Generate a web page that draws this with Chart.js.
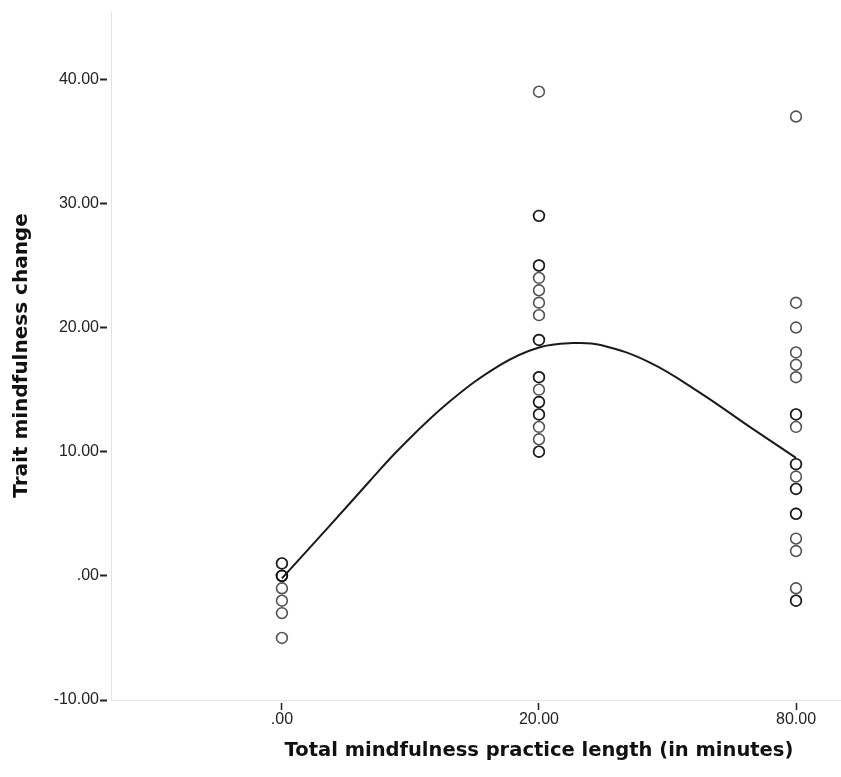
<!DOCTYPE html>
<html>
<head>
<meta charset="utf-8">
<script src="https://cdn.jsdelivr.net/npm/chart.js@4/dist/chart.umd.min.js"></script>
<style>
  html, body { margin: 0; padding: 0; background: #fff; overflow: hidden; }
  canvas { display: block; }
</style>
</head>
<body>
<canvas id="scatterChart" width="841" height="777"></canvas>
<script>
// categorie asse X (posizioni equidistanti 0, 1, 2)
const xCategories = ['.00', '20.00', '80.00'];
const yTicks = [-10, 0, 10, 20, 30, 40];

// valori (duplicati = cerchi più scuri)
const group0 = [1, 1, 0, 0, 0, -1, -2, -3, -5];
const group20 = [39, 29, 29, 25, 25, 24, 23, 22, 21, 19, 19, 16, 16, 15, 14, 14, 13, 13, 12, 11, 10, 10];
const group80 = [37, 22, 20, 18, 17, 16, 13, 13, 12, 9, 9, 8, 7, 7, 5, 5, 3, 2, -1, -2, -2];

// curva di adattamento
const curveX = [0, 0.18, 0.34, 0.46, 0.65, 0.85, 1.0, 1.13, 1.24, 1.43, 1.63, 1.82, 2.0];
const curveY = [-0.2, 3.9, 7.6, 10.3, 14.0, 17.0, 18.4, 18.75, 18.6, 17.2, 14.7, 12.0, 9.5];

const xTitle = 'Total mindfulness practice length (in minutes)';
const yTitle = 'Trait mindfulness change';

const groups = [group0, group20, group80];
let points = [];
groups.forEach((g, i) => g.forEach(v => points.push({ x: i, y: v })));

const curve = curveX.map((x, i) => ({ x: x, y: curveY[i] }));

// titoli degli assi disegnati a mano
const axisTitles = {
    id: 'axisTitles',
    afterDraw(chart) {
        const ctx = chart.ctx;
        const area = chart.chartArea;
        ctx.save();
        ctx.fillStyle = '#111';
        ctx.textAlign = 'center';
        ctx.textBaseline = 'middle';
        ctx.font = 'bold 19.5px "DejaVu Sans", Verdana, sans-serif';
        ctx.fillText(xTitle, chart.scales.x.getPixelForValue(1), 751);
        ctx.font = 'bold 20px "DejaVu Sans", Verdana, sans-serif';
        ctx.translate(22, (area.top + area.bottom) / 2);
        ctx.rotate(-Math.PI / 2);
        ctx.fillText(yTitle, 0, 0);
        ctx.restore();
    }
};

const ctx = document.getElementById('scatterChart').getContext('2d');
new Chart(ctx, {
    type: 'scatter',
    data: {
        datasets: [
            {
                label: 'Fit',
                data: curve,
                showLine: true,
                borderColor: '#1a1a1a',
                borderWidth: 2,
                pointRadius: 0,
                tension: 0.4,
                fill: false
            },
            {
                label: 'Observed',
                data: points,
                pointRadius: 5.4,
                pointBorderWidth: 1.6,
                borderColor: 'rgba(0,0,0,0.68)',
                backgroundColor: 'rgba(0,0,0,0)',
                pointBackgroundColor: 'rgba(0,0,0,0)'
            }
        ]
    },
    options: {
        responsive: false,
        animation: false,
        devicePixelRatio: 1,
        layout: { autoPadding: false, padding: { top: 11, right: 0, left: 0, bottom: 0 } },
        plugins: {
            legend: { display: false },
            tooltip: { enabled: false }
        },
        scales: {
            x: {
                type: 'linear',
                min: -0.665,
                max: 2.175,
                afterFit(scale) {
                    scale.height = 77;
                    scale.paddingLeft = 0;
                    scale.paddingRight = 0;
                },
                afterBuildTicks(scale) { scale.ticks = [0, 1, 2].map(v => ({ value: v })); },
                border: { display: true, color: '#e4e4e4', width: 1 },
                grid: {
                    drawOnChartArea: false,
                    tickLength: 10,
                    tickColor: '#222',
                    tickWidth: 1.5,
                    tickBorderDash: [0, 2, 8, 40]
                },
                ticks: {
                    padding: 0,
                    color: '#222',
                    font: { family: '"Liberation Sans", Arial, sans-serif', size: 16 },
                    callback: (v) => xCategories[v]
                }
            },
            y: {
                min: -10,
                max: 45.5,
                afterFit(scale) {
                    scale.width = 111;
                    scale.paddingTop = 0;
                    scale.paddingBottom = 0;
                },
                afterBuildTicks(scale) { scale.ticks = yTicks.map(v => ({ value: v })); },
                border: { display: true, color: '#e4e4e4', width: 1 },
                grid: {
                    drawOnChartArea: false,
                    tickLength: 11,
                    tickColor: '#222',
                    tickWidth: 2,
                    tickBorderDash: [7, 40]
                },
                ticks: {
                    padding: 1,
                    color: '#222',
                    font: { family: '"Liberation Sans", Arial, sans-serif', size: 16 },
                    callback: (v) => v === 0 ? '.00' : v.toFixed(2)
                }
            }
        }
    },
    plugins: [axisTitles]
});
</script>
</body>
</html>
